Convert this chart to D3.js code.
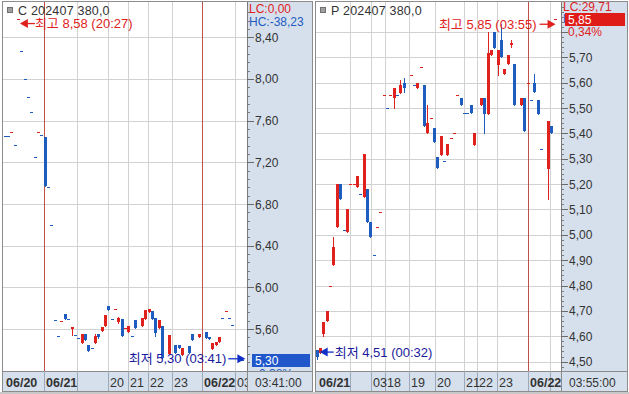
<!DOCTYPE html>
<html><head><meta charset="utf-8">
<script src="https://cdn.jsdelivr.net/npm/d3@7/dist/d3.min.js"></script>
<style>
body{margin:0;background:#fff;}
svg{display:block;}
text{font-family:"Liberation Sans","Noto Sans CJK KR",Arial,sans-serif;}
</style></head>
<body><svg id="chart" width="629" height="394"></svg>
<script>
// ---------------- LEFT PANEL DATA (C 202407 380,0) ----------------
const leftTitle = "C 202407 380,0";
const leftSlot = [0,1,2,3,4,5,6,7,8,9,10,11,12,13,14,15,16,17,18,19,20,21,22,23,24,25,26,27,28,29,30,31,32,33,34,35,36,37,38,39,41,42,43,44,45,46,47,49,51,52,53,55,56,58,60,61,62,63,64,65,66,67,68,71];
const leftOpen = [7.45,7.45,7.49,7.37,8.58,8.27,8.00,7.83,7.68,7.25,
  7.49,7.46,7.44,6.96,6.60,5.69,5.53,5.68,5.74,5.70,
  5.60,5.54,5.51,5.47,5.55,5.45,5.42,5.47,5.55,5.58,
  5.63,5.82,5.70,5.79,5.67,5.70,5.61,5.57,5.53,5.69,
  5.63,5.70,5.76,5.77,5.71,5.61,5.63,
  5.36,
  5.45,5.45,5.35,
  5.44,5.55,
  5.52,
  5.57,5.52,5.41,5.45,5.48,5.71,5.77,5.71,5.64,
  5.30];
const leftClose = [7.45,7.45,7.49,7.37,8.58,8.27,8.00,7.83,7.68,7.25,
  7.49,7.46,6.97,6.96,6.60,5.69,5.53,5.68,5.70,5.70,
  5.62,5.54,5.51,5.55,5.49,5.39,5.42,5.53,5.52,5.62,
  5.73,5.78,5.70,5.79,5.71,5.53,5.61,5.63,5.53,5.61,
  5.71,5.78,5.79,5.70,5.56,5.69,5.325,
  5.54,
  5.37,5.42,5.42,
  5.37,5.49,
  5.55,
  5.51,5.50,5.47,5.48,5.52,5.71,5.77,5.71,5.64,
  5.30];
const leftHigh = [7.45,7.45,7.49,7.37,8.58,8.27,8.00,7.83,7.68,7.25,
  7.49,7.46,7.44,6.96,6.60,5.69,5.53,5.68,5.74,5.70,
  5.62,5.54,5.51,5.55,5.55,5.45,5.42,5.55,5.55,5.62,
  5.73,5.82,5.70,5.79,5.72,5.70,5.61,5.63,5.53,5.69,
  5.71,5.78,5.79,5.77,5.71,5.69,5.63,
  5.54,
  5.45,5.45,5.42,
  5.44,5.55,
  5.55,
  5.57,5.52,5.47,5.48,5.52,5.71,5.77,5.71,5.64,
  5.30];
const leftLow = [7.45,7.45,7.49,7.37,8.58,8.27,8.00,7.83,7.68,7.25,
  7.49,7.46,6.97,6.96,6.60,5.69,5.53,5.68,5.70,5.70,
  5.54,5.54,5.51,5.47,5.49,5.39,5.42,5.47,5.51,5.58,
  5.63,5.78,5.70,5.79,5.66,5.53,5.61,5.57,5.53,5.61,
  5.63,5.70,5.76,5.70,5.53,5.61,5.325,
  5.36,
  5.37,5.42,5.35,
  5.37,5.49,
  5.52,
  5.51,5.50,5.41,5.45,5.48,5.71,5.77,5.71,5.64,
  5.30];
const leftUp = [0,0,1,0,1,0,0,0,0,0,
  1,0,0,0,0,0,0,1,0,0,
  1,0,0,1,0,0,0,1,0,1,
  1,0,0,1,1,0,1,1,0,0,
  1,1,1,0,0,1,0,
  1,
  0,0,1,
  0,0,
  1,
  0,0,1,1,1,0,1,0,0,
  0];
const leftYTicks = [5.60,6.00,6.40,6.80,7.20,7.60,8.00,8.40];
const leftYLabels = ["5,60","6,00","6,40","6,80","7,20","7,60","8,00","8,40"];
const leftXTickSlot = [-0.45,11.8,21.6,30.9,36.9,42.8,50.0,59.0,68.8];
const leftXTickLabel = ["06/20","06/21","","20","21","22","23","06/22","03"];
const leftXTickDay = [1,1,0,0,0,0,0,1,0];
const leftLC = "LC:0,00", leftHC = "HC:-38,23";
const leftHighText = "최고 8,58 (20:27)", leftLowText = "최저 5,30 (03:41)";
const leftLast = "5,30", leftPct = "-0,38%", leftTime = "03:41:00";

// ---------------- RIGHT PANEL DATA (P 202407 380,0) ----------------
const rightTitle = "P 202407 380,0";
const rightSlot = [0,1,2,3,4,5,6,7,8,9,10,11,12,13,14,15,16,17,18,19,20,21,22,23,24,25,26,28,29,30,31,32,33,34,35,36,37,38,39,40,41,42,43,44,45,46,47,49,50,51,52,53,54,55,56,57,58,59,61,62,63,64,65,66,67,69,70,71];
const rightOpen = [4.545,4.535,4.61,4.66,4.80,4.88,5.03,5.20,5.02,5.01,
  5.20,5.20,5.19,5.16,5.15,5.18,5.05,4.92,5.03,5.09,
  5.55,5.50,5.55,5.54,5.55,5.56,5.60,
  5.63,5.59,5.58,5.66,5.59,5.40,5.46,5.42,5.305,5.315,
  5.29,5.315,5.38,5.40,5.55,5.54,5.48,5.48,5.51,5.355,
  5.51,5.54,5.475,5.71,5.80,5.67,5.77,5.635,5.675,5.75,5.675,
  5.51,5.54,5.60,5.53,5.60,5.53,5.34,
  5.26,5.43,5.85];
const rightClose = [4.52,4.555,4.655,4.70,4.80,4.95,5.20,5.14,5.02,5.10,
  5.20,5.20,5.23,5.16,5.32,5.05,4.99,4.92,5.03,5.09,
  5.55,5.50,5.55,5.58,5.55,5.59,5.58,
  5.63,5.59,5.60,5.66,5.43,5.44,5.46,5.365,5.265,5.39,
  5.29,5.36,5.38,5.40,5.55,5.51,5.48,5.48,5.48,5.40,
  5.54,5.475,5.715,5.73,5.735,5.73,5.70,5.655,5.71,5.755,5.51,
  5.54,5.41,5.60,5.53,5.565,5.475,5.34,
  5.45,5.40,5.85];
const rightHigh = [4.545,4.555,4.655,4.70,4.80,4.99,5.20,5.20,5.02,5.10,
  5.20,5.20,5.23,5.16,5.32,5.18,5.05,4.92,5.03,5.09,
  5.55,5.50,5.55,5.58,5.55,5.61,5.62,
  5.63,5.59,5.60,5.66,5.59,5.51,5.46,5.42,5.305,5.39,
  5.29,5.36,5.38,5.40,5.55,5.54,5.48,5.48,5.51,5.40,
  5.54,5.54,5.80,5.73,5.80,5.73,5.83,5.655,5.71,5.77,5.675,
  5.54,5.54,5.60,5.53,5.635,5.53,5.34,
  5.45,5.43,5.85];
const rightLow = [4.51,4.535,4.60,4.66,4.80,4.88,5.03,5.14,5.02,5.01,
  5.20,5.20,5.19,5.16,5.15,5.05,4.99,4.92,5.03,5.09,
  5.55,5.50,5.55,5.50,5.55,5.56,5.565,
  5.63,5.59,5.58,5.66,5.43,5.40,5.46,5.365,5.265,5.315,
  5.29,5.315,5.38,5.40,5.55,5.51,5.48,5.48,5.48,5.355,
  5.51,5.40,5.475,5.71,5.735,5.63,5.70,5.635,5.675,5.74,5.51,
  5.51,5.41,5.60,5.53,5.565,5.475,5.34,
  5.14,5.40,5.85];
const rightUp = [0,1,1,1,1,1,1,0,0,1,
  1,1,1,0,1,0,0,0,1,1,
  1,0,1,1,0,1,0,
  1,0,1,1,0,1,1,0,0,1,
  0,1,1,1,1,0,0,0,0,1,
  1,0,1,1,0,1,0,1,1,1,0,
  1,0,1,0,0,0,0,
  1,0,1];
const rightYTicks = [4.50,4.60,4.70,4.80,4.90,5.00,5.10,5.20,5.30,5.40,5.50,5.60,5.70,5.80];
const rightYLabels = ["4,50","4,60","4,70","4,80","4,90","5,00","5,10","5,20","5,30","5,40","5,50","5,60","5,70",""];
const rightXTickSlot = [-0.5,9.94,16.1,20.3,27.5,35.3,44.0,47.8,53.85,63.1,69.65];
const rightXTickLabel = ["06/21","","03","18","19","20","21","22","23","06/22",""];
const rightXTickDay = [1,0,0,0,0,0,0,0,0,1,0];
const rightLC = "LC:29,71", rightHC = "H";
const rightHighText = "최고 5,85 (03:55)", rightLowText = "최저 4,51 (00:32)";
const rightLast = "5,85", rightPct = "0,34%", rightTime = "03:55:00";

// ---------------- DRAWING ----------------
const RED = "#e0221e", BLUE = "#1f5cc0", GRID = "#d2d2d2", DAY = "#c0504a",
      PANEL = "#d6e0ed", TXT = "#333", NAVY = "#1a1a9c";
const ANN = {size:13, ls:0};
const svg = d3.select("#chart");
svg.append("rect").attr("width",629).attr("height",394).attr("fill","#fff");

function arrow(g, x1, x2, yy, color){
  const dir = Math.sign(x2 - x1);
  g.append("line").attr("x1",x1).attr("x2",x2 - dir*6).attr("y1",yy).attr("y2",yy)
    .attr("stroke",color).attr("stroke-width",1.3);
  g.append("path").attr("d",`M${x2},${yy}L${x2-dir*8},${yy-4.5}L${x2-dir*8},${yy+4.5}Z`).attr("fill",color);
}
function annText(g, xx, yy, anchor, color, t){
  g.append("text").attr("x",xx).attr("y",yy).attr("text-anchor",anchor)
    .attr("font-size",ANN.size).attr("letter-spacing",ANN.ls).attr("fill",color).text(t);
}

function panel(p){
  const g = svg.append("g");
  const L = p.left, R = p.axisX, T = 2, B = 371, BB = 391, PR = p.right;
  const x = d3.scaleLinear().domain([0,71]).range(p.xr);
  const y = d3.scaleLinear().domain(p.yd).range(p.yr);
  const id = "clip" + p.key;
  svg.append("clipPath").attr("id",id).append("rect").attr("x",L).attr("y",T).attr("width",R-L).attr("height",B-T);
  const idb = "clipb" + p.key;
  svg.append("clipPath").attr("id",idb).append("rect").attr("x",L).attr("y",B).attr("width",R-L).attr("height",BB-B);
  const ids = "clips" + p.key;
  svg.append("clipPath").attr("id",ids).append("rect").attr("x",R).attr("y",T).attr("width",PR-R).attr("height",B-T);

  const plot = g.append("g").attr("clip-path",`url(#${id})`);
  plot.selectAll(".hg").data(p.yTicks).join("line")
    .attr("x1",L).attr("x2",R)
    .attr("y1",d=>Math.round(y(d))+0.5).attr("y2",d=>Math.round(y(d))+0.5)
    .attr("stroke",GRID);
  const xt = p.xSlot.map((s,i)=>({s,lab:p.xLab[i],day:p.xDay[i]}));
  plot.selectAll(".vg").data(xt.filter(d=>d.s>0)).join("line")
    .attr("x1",d=>Math.round(x(d.s))+0.5).attr("x2",d=>Math.round(x(d.s))+0.5)
    .attr("y1",T).attr("y2",B)
    .attr("stroke",d=>d.day?DAY:GRID);

  const data = p.slot.map((s,i)=>({s,o:p.o[i],h:p.h[i],l:p.l[i],c:p.c[i],up:p.up[i]}));
  const col = d=>d.up?RED:BLUE;
  plot.selectAll(".wk").data(data.filter(d=>d.h>d.l)).join("line")
    .attr("x1",d=>Math.round(x(d.s))+0.5).attr("x2",d=>Math.round(x(d.s))+0.5)
    .attr("y1",d=>Math.round(y(d.h))).attr("y2",d=>Math.round(y(d.l))+1)
    .attr("stroke",col);
  plot.selectAll(".bd").data(data).join("rect")
    .attr("x",d=>Math.round(x(d.s))-1).attr("width",3)
    .attr("y",d=>Math.round(y(Math.max(d.o,d.c))))
    .attr("height",d=>Math.max(1,Math.round(y(Math.min(d.o,d.c)))-Math.round(y(Math.max(d.o,d.c)))))
    .attr("fill",col);

  g.append("rect").attr("x",L+4.5).attr("y",7.5).attr("width",5).attr("height",5).attr("fill","#a0a0a0").attr("stroke","#707070");
  g.append("text").attr("x",L+15).attr("y",15).attr("font-size",12.5).attr("letter-spacing",0.2).attr("fill",TXT).text(p.title);

  const hi = data.reduce((a,b)=>b.h>a.h?b:a), lo = data.reduce((a,b)=>b.l<a.l?b:a);
  p.annot(g, x, y, hi, lo);

  // y-axis panel
  g.append("rect").attr("x",R).attr("y",T).attr("width",PR-R).attr("height",BB-T).attr("fill",PANEL);
  g.append("line").attr("x1",R+0.5).attr("x2",R+0.5).attr("y1",T).attr("y2",B).attr("stroke","#7a7a7a");
  const [d0,d1] = p.yd;
  const minor = d3.range(Math.ceil(d0/p.minor)*p.minor, d1, p.minor).filter(v=>y(v)>=T+2 && y(v)<=B-1);
  g.selectAll(".mt").data(minor).join("line")
    .attr("x1",R).attr("x2",R+3).attr("y1",d=>Math.round(y(d))+0.5).attr("y2",d=>Math.round(y(d))+0.5)
    .attr("stroke","#7a7a7a");
  g.selectAll(".Mt").data(p.yTicks.filter(v=>y(v)>=T && y(v)<=B)).join("line")
    .attr("x1",R).attr("x2",R+7).attr("y1",d=>Math.round(y(d))+0.5).attr("y2",d=>Math.round(y(d))+0.5)
    .attr("stroke","#6a6a6a");
  g.selectAll(".yl").data(p.yTicks.map((v,i)=>({v,t:p.yLab[i]})).filter(d=>d.t && y(d.v)>=p.labMin && y(d.v)<=366)).join("text")
    .attr("x",R+8).attr("y",d=>y(d.v)+4.5).attr("font-size",12).attr("fill",TXT).text(d=>d.t);
  p.side(g.append("g").attr("clip-path",`url(#${ids})`), y, R, PR);

  // x band
  g.append("rect").attr("x",L).attr("y",B+0.5).attr("width",PR-L).attr("height",BB-B).attr("fill",PANEL);
  g.append("line").attr("x1",L).attr("x2",PR).attr("y1",B+0.5).attr("y2",B+0.5).attr("stroke","#8a8a8a");
  g.append("line").attr("x1",R+0.5).attr("x2",R+0.5).attr("y1",B).attr("y2",BB).attr("stroke","#8a8a8a");
  const band = g.append("g").attr("clip-path",`url(#${idb})`);
  band.selectAll(".sep").data(xt.filter(d=>d.s>0)).join("line")
    .attr("x1",d=>Math.round(x(d.s))+0.5).attr("x2",d=>Math.round(x(d.s))+0.5)
    .attr("y1",B).attr("y2",BB).attr("stroke","#9ea8b8");
  band.selectAll(".xl").data(xt.filter(d=>d.lab)).join("text")
    .attr("x",d=>Math.max(L+3,Math.round(x(d.s))+2)).attr("y",BB-4)
    .attr("font-size",12.5).attr("font-weight",d=>d.lab.includes("/")?"bold":"normal")
    .attr("fill",TXT).text(d=>d.lab);
  g.append("text").attr("x",R+8).attr("y",BB-4).attr("font-size",12).attr("fill",TXT).text(p.time);

  g.append("rect").attr("x",L-0.5).attr("y",T-0.5).attr("width",PR-L+1).attr("height",BB-T+1)
    .attr("fill","none").attr("stroke","#8c8c8c");
}

// LEFT
panel({key:"L", left:3, axisX:247, right:312, xr:[4.5, 4.5+71*3.35], yd:[5.197,8.739], yr:[371,2],
  yTicks:leftYTicks, yLab:leftYLabels, minor:0.08, labMin:30,
  xSlot:leftXTickSlot, xLab:leftXTickLabel, xDay:leftXTickDay,
  slot:leftSlot, o:leftOpen, h:leftHigh, l:leftLow, c:leftClose, up:leftUp,
  title:leftTitle, time:leftTime,
  annot:(g,x,y,hi,lo)=>{
    const hx = x(hi.s)+2, hy = y(hi.h)+5;
    arrow(g, hx+15, hx, hy, RED);
    annText(g, hx+15, hy+4.5, "start", RED, leftHighText);
    const lx = x(lo.s)+3, ly = y(lo.l)-1.5;
    arrow(g, lx-17, lx, ly, "#1030c8");
    annText(g, lx-19, ly+4.5, "end", NAVY, leftLowText);
  },
  side:(g,y,R,PR)=>{
    g.append("text").attr("x",R+2).attr("y",13).attr("font-size",12).attr("fill",RED).text(leftLC);
    g.append("text").attr("x",R+2).attr("y",26).attr("font-size",12).attr("fill",BLUE).text(leftHC);
    const v = y(leftClose[leftClose.length-1]);
    g.append("text").attr("x",R+8).attr("y",v+18).attr("font-size",12).attr("fill",BLUE).text(leftPct);
    g.append("rect").attr("x",R+5).attr("y",Math.round(v)-6).attr("width",PR-R-7).attr("height",13).attr("fill","#2058cc");
    g.append("text").attr("x",R+8).attr("y",Math.round(v)+5).attr("font-size",12).attr("fill","#fff").text(leftLast);
  }
});

// RIGHT
panel({key:"R", left:316, axisX:561, right:627, xr:[316.7, 316.7+71*3.35], yd:[4.463,5.918], yr:[371,2],
  yTicks:rightYTicks, yLab:rightYLabels, minor:0.02, labMin:40,
  xSlot:rightXTickSlot, xLab:rightXTickLabel, xDay:rightXTickDay,
  slot:rightSlot, o:rightOpen, h:rightHigh, l:rightLow, c:rightClose, up:rightUp,
  title:rightTitle, time:rightTime,
  annot:(g,x,y,hi,lo)=>{
    const hx = x(hi.s)+1, hy = y(hi.h)+5;
    arrow(g, hx-16, hx, hy, RED);
    annText(g, hx-19, hy+4.5, "end", RED, rightHighText);
    const lx = x(lo.s)+3, ly = y(lo.l)-7;
    arrow(g, lx+14, lx, ly, "#1030c8");
    annText(g, lx+15, ly+4.5, "start", NAVY, rightLowText);
  },
  side:(g,y,R,PR)=>{
    g.append("text").attr("x",R+2).attr("y",11).attr("font-size",12).attr("fill",RED).text(rightLC);
    g.append("text").attr("x",R+2).attr("y",23).attr("font-size",12).attr("fill",BLUE).text(rightHC);
    const v = y(rightClose[rightClose.length-1]);
    g.append("text").attr("x",R+7).attr("y",v+17).attr("font-size",12).attr("fill",RED).text(rightPct);
    g.append("rect").attr("x",R+4).attr("y",Math.round(v)-6).attr("width",PR-R-6).attr("height",13).attr("fill","#e01c18");
    g.append("text").attr("x",R+7).attr("y",Math.round(v)+5).attr("font-size",12).attr("fill","#fff").text(rightLast);
  }
});
svg.append("rect").attr("x",0).attr("y",392).attr("width",629).attr("height",2).attr("fill","#c8c8c8");
</script></body></html>
